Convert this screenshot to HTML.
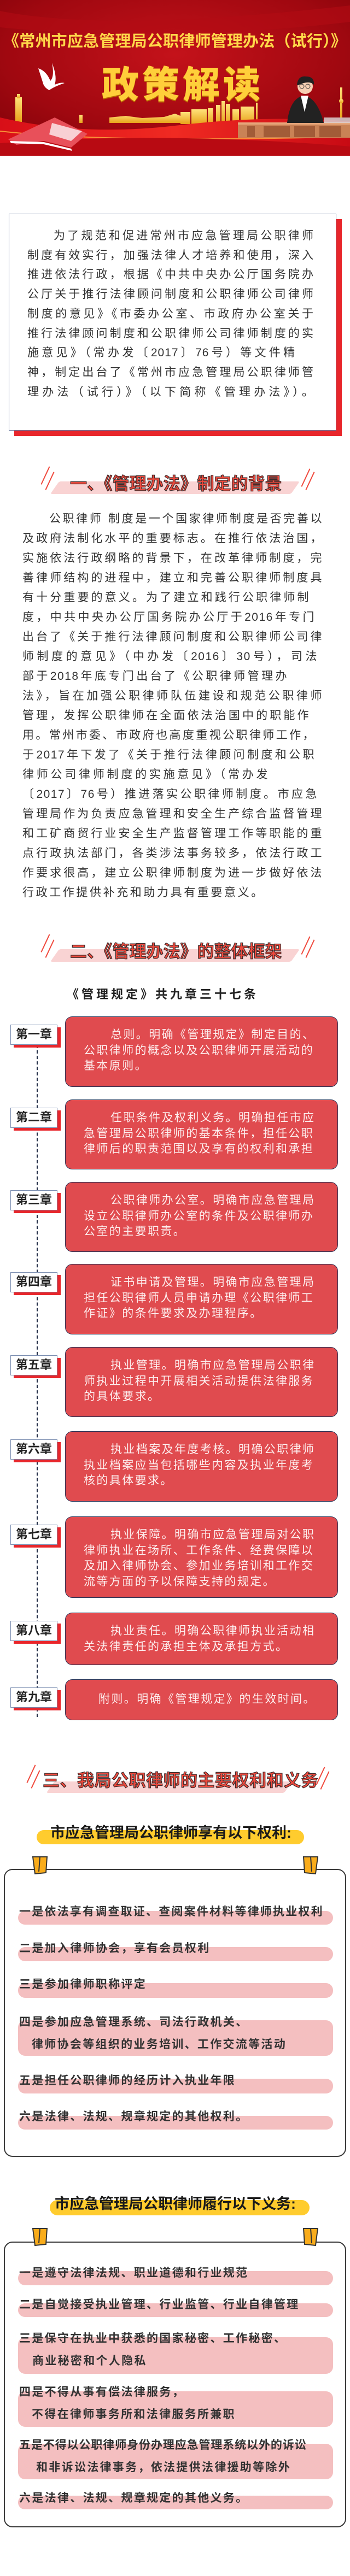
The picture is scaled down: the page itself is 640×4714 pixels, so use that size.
<!DOCTYPE html>
<html><head><meta charset="utf-8">
<style>
*{margin:0;padding:0;box-sizing:border-box}
body{width:640px;height:4714px;background:#fff;position:relative;overflow:hidden;font-family:"Liberation Sans","Noto Sans CJK SC",sans-serif}
.a{position:absolute}
.j{text-align:justify;text-align-last:justify;white-space:nowrap}
.hd{position:absolute;font-weight:bold;font-size:31px;color:#f04a3e;-webkit-text-stroke:1.2px #3a2a2a;white-space:nowrap;letter-spacing:0px}
.bar{position:absolute;background:#f9d3d3;transform:skewX(-35deg);border-radius:3px}
.sl{position:absolute;width:1.5px;background:#f04a3e;transform:rotate(25deg)}
.cb{position:absolute;left:119px;width:499px;background:#e04b4f;border:1.5px solid #2a3558;border-radius:13px;color:#fdeeee;font-size:21px;letter-spacing:2.4px;line-height:28.5px;padding:19px 0 0 33px;white-space:nowrap}
.lb{position:absolute;left:19px;width:86px;height:37px;background:#fff;border:1.5px solid #7a8db0;box-shadow:6px 5px 0 #e8262b;font-weight:bold;font-size:22px;color:#222;text-align:center;line-height:34px;letter-spacing:0}
.pill{position:absolute;background:#ffcc2e;border-radius:14px}
.pt{position:absolute;font-weight:bold;font-size:27px;color:#1a1a1a;white-space:nowrap}
.box{position:absolute;left:7px;width:626px;border:2.5px solid #3a3a3a;border-radius:16px;background:#fff}
.ib{position:absolute;left:33px;width:576px;background:#f4bfc0;border-radius:13px}
.it{position:absolute;left:35px;font-size:21px;font-weight:bold;color:#333;white-space:nowrap;letter-spacing:2.3px;line-height:26px}
.clip{position:absolute;width:28px;height:33px}
</style></head><body>

<!-- HEADER -->
<svg class="a" style="left:0;top:0" width="640" height="285" viewBox="0 0 640 285">
<defs>
<radialGradient id="bg" cx="0.5" cy="0.35" r="0.8"><stop offset="0" stop-color="#c4121a"/><stop offset="0.6" stop-color="#a00810"/><stop offset="1" stop-color="#7a0208"/></radialGradient>
<linearGradient id="gold" x1="0" y1="0" x2="0" y2="1"><stop offset="0" stop-color="#ffe27a"/><stop offset="1" stop-color="#e8a21a"/></linearGradient>
<linearGradient id="band" x1="0" y1="0" x2="1" y2="0"><stop offset="0" stop-color="#d80f18"/><stop offset="0.5" stop-color="#f02a22"/><stop offset="1" stop-color="#c80a14"/></linearGradient>
</defs>
<rect width="640" height="285" fill="url(#bg)"/>
<path d="M0 20 Q200 60 640 10 L640 40 Q300 80 0 50Z" fill="#b20c14" opacity="0.6"/>
<g fill="url(#gold)">
<rect x="28" y="178" width="12" height="45"/><rect x="31" y="172" width="6" height="8"/>
<rect x="145" y="210" width="6" height="15"/>
<path d="M200 225 L200 215 L230 212 L260 216 L300 214 L320 208 L330 212 L330 225Z"/>
<rect x="330" y="205" width="18" height="22"/><rect x="350" y="200" width="28" height="27"/>
<rect x="380" y="198" width="10" height="30"/><rect x="395" y="192" width="8" height="36"/>
<rect x="405" y="185" width="6" height="43"/><rect x="413" y="190" width="8" height="38"/>
<rect x="425" y="200" width="12" height="28"/><rect x="440" y="195" width="25" height="32"/>
<rect x="468" y="188" width="3" height="38"/><rect x="622" y="160" width="4" height="55"/>
<circle cx="624" cy="185" r="4"/>
</g>
<path d="M0 215 Q150 250 320 230 Q480 210 640 222 L640 285 L0 285Z" fill="url(#band)"/>
<path d="M0 240 Q200 262 640 250" stroke="#ffb040" stroke-width="2" fill="none" opacity="0.8"/>
<path d="M0 262 Q300 240 640 268 L640 285 L0 285Z" fill="#b80a12"/>
<rect x="435" y="226" width="205" height="26" fill="#c98256"/>
<rect x="435" y="224" width="205" height="4" fill="#e6a57a"/>
<rect x="452" y="231" width="14" height="20" fill="#a25c38"/><rect x="482" y="231" width="48" height="20" fill="#a25c38"/><rect x="538" y="231" width="38" height="20" fill="#a25c38"/><rect x="584" y="231" width="40" height="20" fill="#a25c38"/>
<path d="M525 225 Q530 180 555 175 Q580 178 592 225Z" fill="#222"/>
<path d="M550 175 L557 205 L564 175Z" fill="#fff"/>
<circle cx="558" cy="158" r="14" fill="#f6d0b4"/>
<path d="M543 155 Q545 138 560 140 Q575 140 574 155 Q565 146 545 156Z" fill="#222"/>
<circle cx="552" cy="158" r="4" fill="none" stroke="#333"/><circle cx="563" cy="158" r="4" fill="none" stroke="#333"/>
<rect x="592" y="215" width="48" height="10" fill="#ddd" opacity="0.8"/>
<path d="M70 125 Q85 130 92 148 Q100 140 95 115 Q105 140 100 155 Q112 150 118 152 Q100 158 90 165 Q80 160 78 150Z" fill="#fff"/>
<path d="M15 255 L100 215 L160 245 L130 270 L80 258 L30 265Z" fill="#e8505a"/>
<path d="M95 225 L150 240 L130 258 L90 246Z" fill="#f8d0d4"/>
<path d="M18 258 L80 260 L130 272 L132 276 L80 264 L20 262Z" fill="#fff"/>
</svg>
<div class="a" style="left:0;top:52px;width:640px;text-align:center;font-weight:bold;font-size:29px;color:#ffd84a;white-space:nowrap;letter-spacing:0.2px">《常州市应急管理局公职律师管理办法（试行）》</div>
<div class="a" style="left:186px;top:100px;font-weight:900;font-size:68px;color:#ffcf3a;white-space:nowrap;letter-spacing:6px;text-shadow:0 2px 0 #b86a00">政策解读</div>

<!-- INTRO BOX -->
<div class="a" style="left:26px;top:401px;width:599px;height:397px;background:#e8262b"></div>
<div class="a" style="left:16px;top:391px;width:599px;height:397px;background:#fff;border:1.5px solid #6a7aa0"></div>
<div class="a" style="left:50px;top:414px;width:524px;font-size:21px;line-height:35.7px;color:#333;letter-spacing:1px">
<div class="j" style="padding-left:48px">为了规范和促进常州市应急管理局公职律师</div>
<div class="j">制度有效实行，加强法律人才培养和使用，深入</div>
<div class="j">推进依法行政，根据《中共中央办公厅国务院办</div>
<div class="j">公厅关于推行法律顾问制度和公职律师公司律师</div>
<div class="j">制度的意见》《市委办公室、市政府办公室关于</div>
<div class="j">推行法律顾问制度和公职律师公司律师制度的实</div>
<div class="j" style="width:490px">施意见》（常办发〔2017〕76号）等文件精</div>
<div class="j">神，制定出台了《常州市应急管理局公职律师管</div>
<div class="j">理办法（试行）》（以下简称《管理办法》）。</div>
</div>

<!-- SECTION 1 -->
<div class="sl" style="left:82px;top:852px;height:36px"></div><div class="sl" style="left:90px;top:862px;height:36px"></div>
<div class="sl" style="left:558px;top:856px;height:36px"></div><div class="sl" style="left:566px;top:862px;height:36px"></div>
<div class="bar" style="left:100px;top:881px;width:440px;height:23px"></div>
<div class="hd" style="left:128px;top:860px">一、《管理办法》制定的背景</div>
<div class="a" style="left:41px;top:932px;width:549px;font-size:21px;line-height:36px;color:#333;letter-spacing:1.5px">
<div class="j" style="padding-left:49px">公职律师 制度是一个国家律师制度是否完善以</div>
<div class="j">及政府法制化水平的重要标志。在推行依法治国，</div>
<div class="j">实施依法行政纲略的背景下，在改革律师制度，完</div>
<div class="j">善律师结构的进程中，建立和完善公职律师制度具</div>
<div class="j" style="width:525px">有十分重要的意义。为了建立和践行公职律师制</div>
<div class="j" style="width:535px">度，中共中央办公厅国务院办公厅于2016年专门</div>
<div class="j">出台了《关于推行法律顾问制度和公职律师公司律</div>
<div class="j" style="width:540px">师制度的意见》（中办发〔2016〕30号），司法</div>
<div class="j" style="width:485px">部于2018年底专门出台了《公职律师管理办</div>
<div class="j">法》，旨在加强公职律师队伍建设和规范公职律师</div>
<div class="j" style="width:525px">管理，发挥公职律师在全面依法治国中的职能作</div>
<div class="j" style="width:535px">用。常州市委、市政府也高度重视公职律师工作，</div>
<div class="j" style="width:535px">于2017年下发了《关于推行法律顾问制度和公职</div>
<div class="j" style="width:450px">律师公司律师制度的实施意见》（常办发</div>
<div class="j" style="width:540px">〔2017〕76号）推进落实公职律师制度。市应急</div>
<div class="j">管理局作为负责应急管理和安全生产综合监督管理</div>
<div class="j">和工矿商贸行业安全生产监督管理工作等职能的重</div>
<div class="j">点行政执法部门，各类涉法事务较多，依法行政工</div>
<div class="j">作要求很高，建立公职律师制度为进一步做好依法</div>
<div style="white-space:nowrap;letter-spacing:3.6px">行政工作提供补充和助力具有重要意义。</div>
</div>

<!-- SECTION 2 -->
<div class="sl" style="left:82px;top:1708px;height:36px"></div><div class="sl" style="left:90px;top:1718px;height:36px"></div>
<div class="sl" style="left:558px;top:1712px;height:36px"></div><div class="sl" style="left:566px;top:1718px;height:36px"></div>
<div class="bar" style="left:100px;top:1737px;width:440px;height:23px"></div>
<div class="hd" style="left:128px;top:1716px">二、《管理办法》的整体框架</div>
<div class="a" style="left:122px;top:1802px;font-weight:bold;font-size:22px;color:#222;letter-spacing:5px;white-space:nowrap">《管理规定》共九章三十七条</div>

<div class="a" style="left:67px;top:1912px;height:1230px;border-left:2px dashed #1f2a44"></div>

<div class="cb" style="top:1860px;height:129px"><div style="padding-left:49px">总则。明确《管理规定》制定目的、</div>公职律师的概念以及公职律师开展活动的<br>基本原则。</div>
<div class="lb" style="top:1875px">第一章</div>
<div class="cb" style="top:2012px;height:128px"><div style="padding-left:49px">任职条件及权利义务。明确担任市应</div>急管理局公职律师的基本条件，担任公职<br>律师后的职责范围以及享有的权利和承担</div>
<div class="lb" style="top:2027px">第二章</div>
<div class="cb" style="top:2163px;height:128px"><div style="padding-left:49px">公职律师办公室。明确市应急管理局</div>设立公职律师办公室的条件及公职律师办<br>公室的主要职责。</div>
<div class="lb" style="top:2178px">第三章</div>
<div class="cb" style="top:2313px;height:129px"><div style="padding-left:49px">证书申请及管理。明确市应急管理局</div>担任公职律师人员申请办理《公职律师工<br>作证》的条件要求及办理程序。</div>
<div class="lb" style="top:2328px">第四章</div>
<div class="cb" style="top:2465px;height:128px"><div style="padding-left:49px">执业管理。明确市应急管理局公职律</div>师执业过程中开展相关活动提供法律服务<br>的具体要求。</div>
<div class="lb" style="top:2480px">第五章</div>
<div class="cb" style="top:2619px;height:129px"><div style="padding-left:49px">执业档案及年度考核。明确公职律师</div>执业档案应当包括哪些内容及执业年度考<br>核的具体要求。</div>
<div class="lb" style="top:2634px">第六章</div>
<div class="cb" style="top:2775px;height:149px"><div style="padding-left:49px">执业保障。明确市应急管理局对公职</div>律师执业在场所、工作条件、经费保障以<br>及加入律师协会、参加业务培训和工作交<br>流等方面的予以保障支持的规定。</div>
<div class="lb" style="top:2790px">第七章</div>
<div class="cb" style="top:2951px;height:96px"><div style="padding-left:49px">执业责任。明确公职律师执业活动相</div>关法律责任的承担主体及承担方式。</div>
<div class="lb" style="top:2966px">第八章</div>
<div class="cb" style="top:3073px;height:75px;padding:22px 0 0 60px">附则。明确《管理规定》的生效时间。</div>
<div class="lb" style="top:3088px">第九章</div>

<!-- SECTION 3 -->
<div class="sl" style="left:56px;top:3228px;height:36px"></div><div class="sl" style="left:64px;top:3238px;height:36px"></div>
<div class="sl" style="left:585px;top:3232px;height:36px"></div><div class="sl" style="left:593px;top:3240px;height:36px"></div>
<div class="bar" style="left:92px;top:3260px;width:435px;height:21px"></div>
<div class="hd" style="left:78px;top:3233px;letter-spacing:0.5px">三、我局公职律师的主要权利和义务</div>

<div class="pill" style="left:67px;top:3349px;width:489px;height:26px"></div>
<div class="pt" style="left:92px;top:3332px">市应急管理局公职律师享有以下权利:</div>

<div class="box" style="top:3420px;height:527px"></div>
<svg class="clip" style="left:59px;top:3397px" viewBox="0 0 28 33"><path d="M1 1 L27 1 L25 30 L5 32Z" fill="#f9ac1b" stroke="#333" stroke-width="2"/><path d="M14 1 L12 28" stroke="#333" stroke-width="2"/></svg>
<svg class="clip" style="left:554px;top:3397px" viewBox="0 0 28 33"><path d="M1 1 L27 1 L23 32 L3 30Z" fill="#f9ac1b" stroke="#333" stroke-width="2"/><path d="M14 1 L16 28" stroke="#333" stroke-width="2"/></svg>

<div class="ib" style="top:3497px;height:25px"></div><div class="it" style="top:3486px;letter-spacing:2.2px">一是依法享有调查取证、查阅案件材料等律师执业权利</div>
<div class="ib" style="top:3563px;height:26px"></div><div class="it" style="top:3553px">二是加入律师协会，享有会员权利</div>
<div class="ib" style="top:3629px;height:27px"></div><div class="it" style="top:3619px">三是参加律师职称评定</div>
<div class="ib" style="top:3697px;height:65px"></div><div class="it" style="top:3688px">四是参加应急管理系统、司法行政机关、</div><div class="it" style="top:3729px;left:58px">律师协会等组织的业务培训、工作交流等活动</div>
<div class="ib" style="top:3804px;height:27px"></div><div class="it" style="top:3795px">五是担任公职律师的经历计入执业年限</div>
<div class="ib" style="top:3872px;height:25px"></div><div class="it" style="top:3861px">六是法律、法规、规章规定的其他权利。</div>

<div class="pill" style="left:91px;top:4026px;width:475px;height:28px"></div>
<div class="pt" style="left:100px;top:4011px">市应急管理局公职律师履行以下义务:</div>

<div class="box" style="top:4102px;height:523px"></div>
<svg class="clip" style="left:59px;top:4077px" viewBox="0 0 28 33"><path d="M1 1 L27 1 L25 30 L5 32Z" fill="#f9ac1b" stroke="#333" stroke-width="2"/><path d="M14 1 L12 28" stroke="#333" stroke-width="2"/></svg>
<svg class="clip" style="left:554px;top:4077px" viewBox="0 0 28 33"><path d="M1 1 L27 1 L23 32 L3 30Z" fill="#f9ac1b" stroke="#333" stroke-width="2"/><path d="M14 1 L16 28" stroke="#333" stroke-width="2"/></svg>

<div class="ib" style="top:4156px;height:26px"></div><div class="it" style="top:4147px">一是遵守法律法规、职业道德和行业规范</div>
<div class="ib" style="top:4215px;height:25px"></div><div class="it" style="top:4205px">二是自觉接受执业管理、行业监管、行业自律管理</div>
<div class="ib" style="top:4277px;height:67px"></div><div class="it" style="top:4267px">三是保守在执业中获悉的国家秘密、工作秘密、</div><div class="it" style="top:4308px;left:59px">商业秘密和个人隐私</div>
<div class="ib" style="top:4376px;height:65px"></div><div class="it" style="top:4365px">四是不得从事有偿法律服务，</div><div class="it" style="top:4406px;left:58px">不得在律师事务所和法律服务所兼职</div>
<div class="ib" style="top:4472px;height:65px"></div><div class="it" style="top:4462px;letter-spacing:0.9px">五是不得以公职律师身份办理应急管理系统以外的诉讼</div><div class="it" style="top:4503px;left:66px">和非诉讼法律事务，依法提供法律援助等除外</div>
<div class="ib" style="top:4567px;height:25px"></div><div class="it" style="top:4559px">六是法律、法规、规章规定的其他义务。</div>

</body></html>
